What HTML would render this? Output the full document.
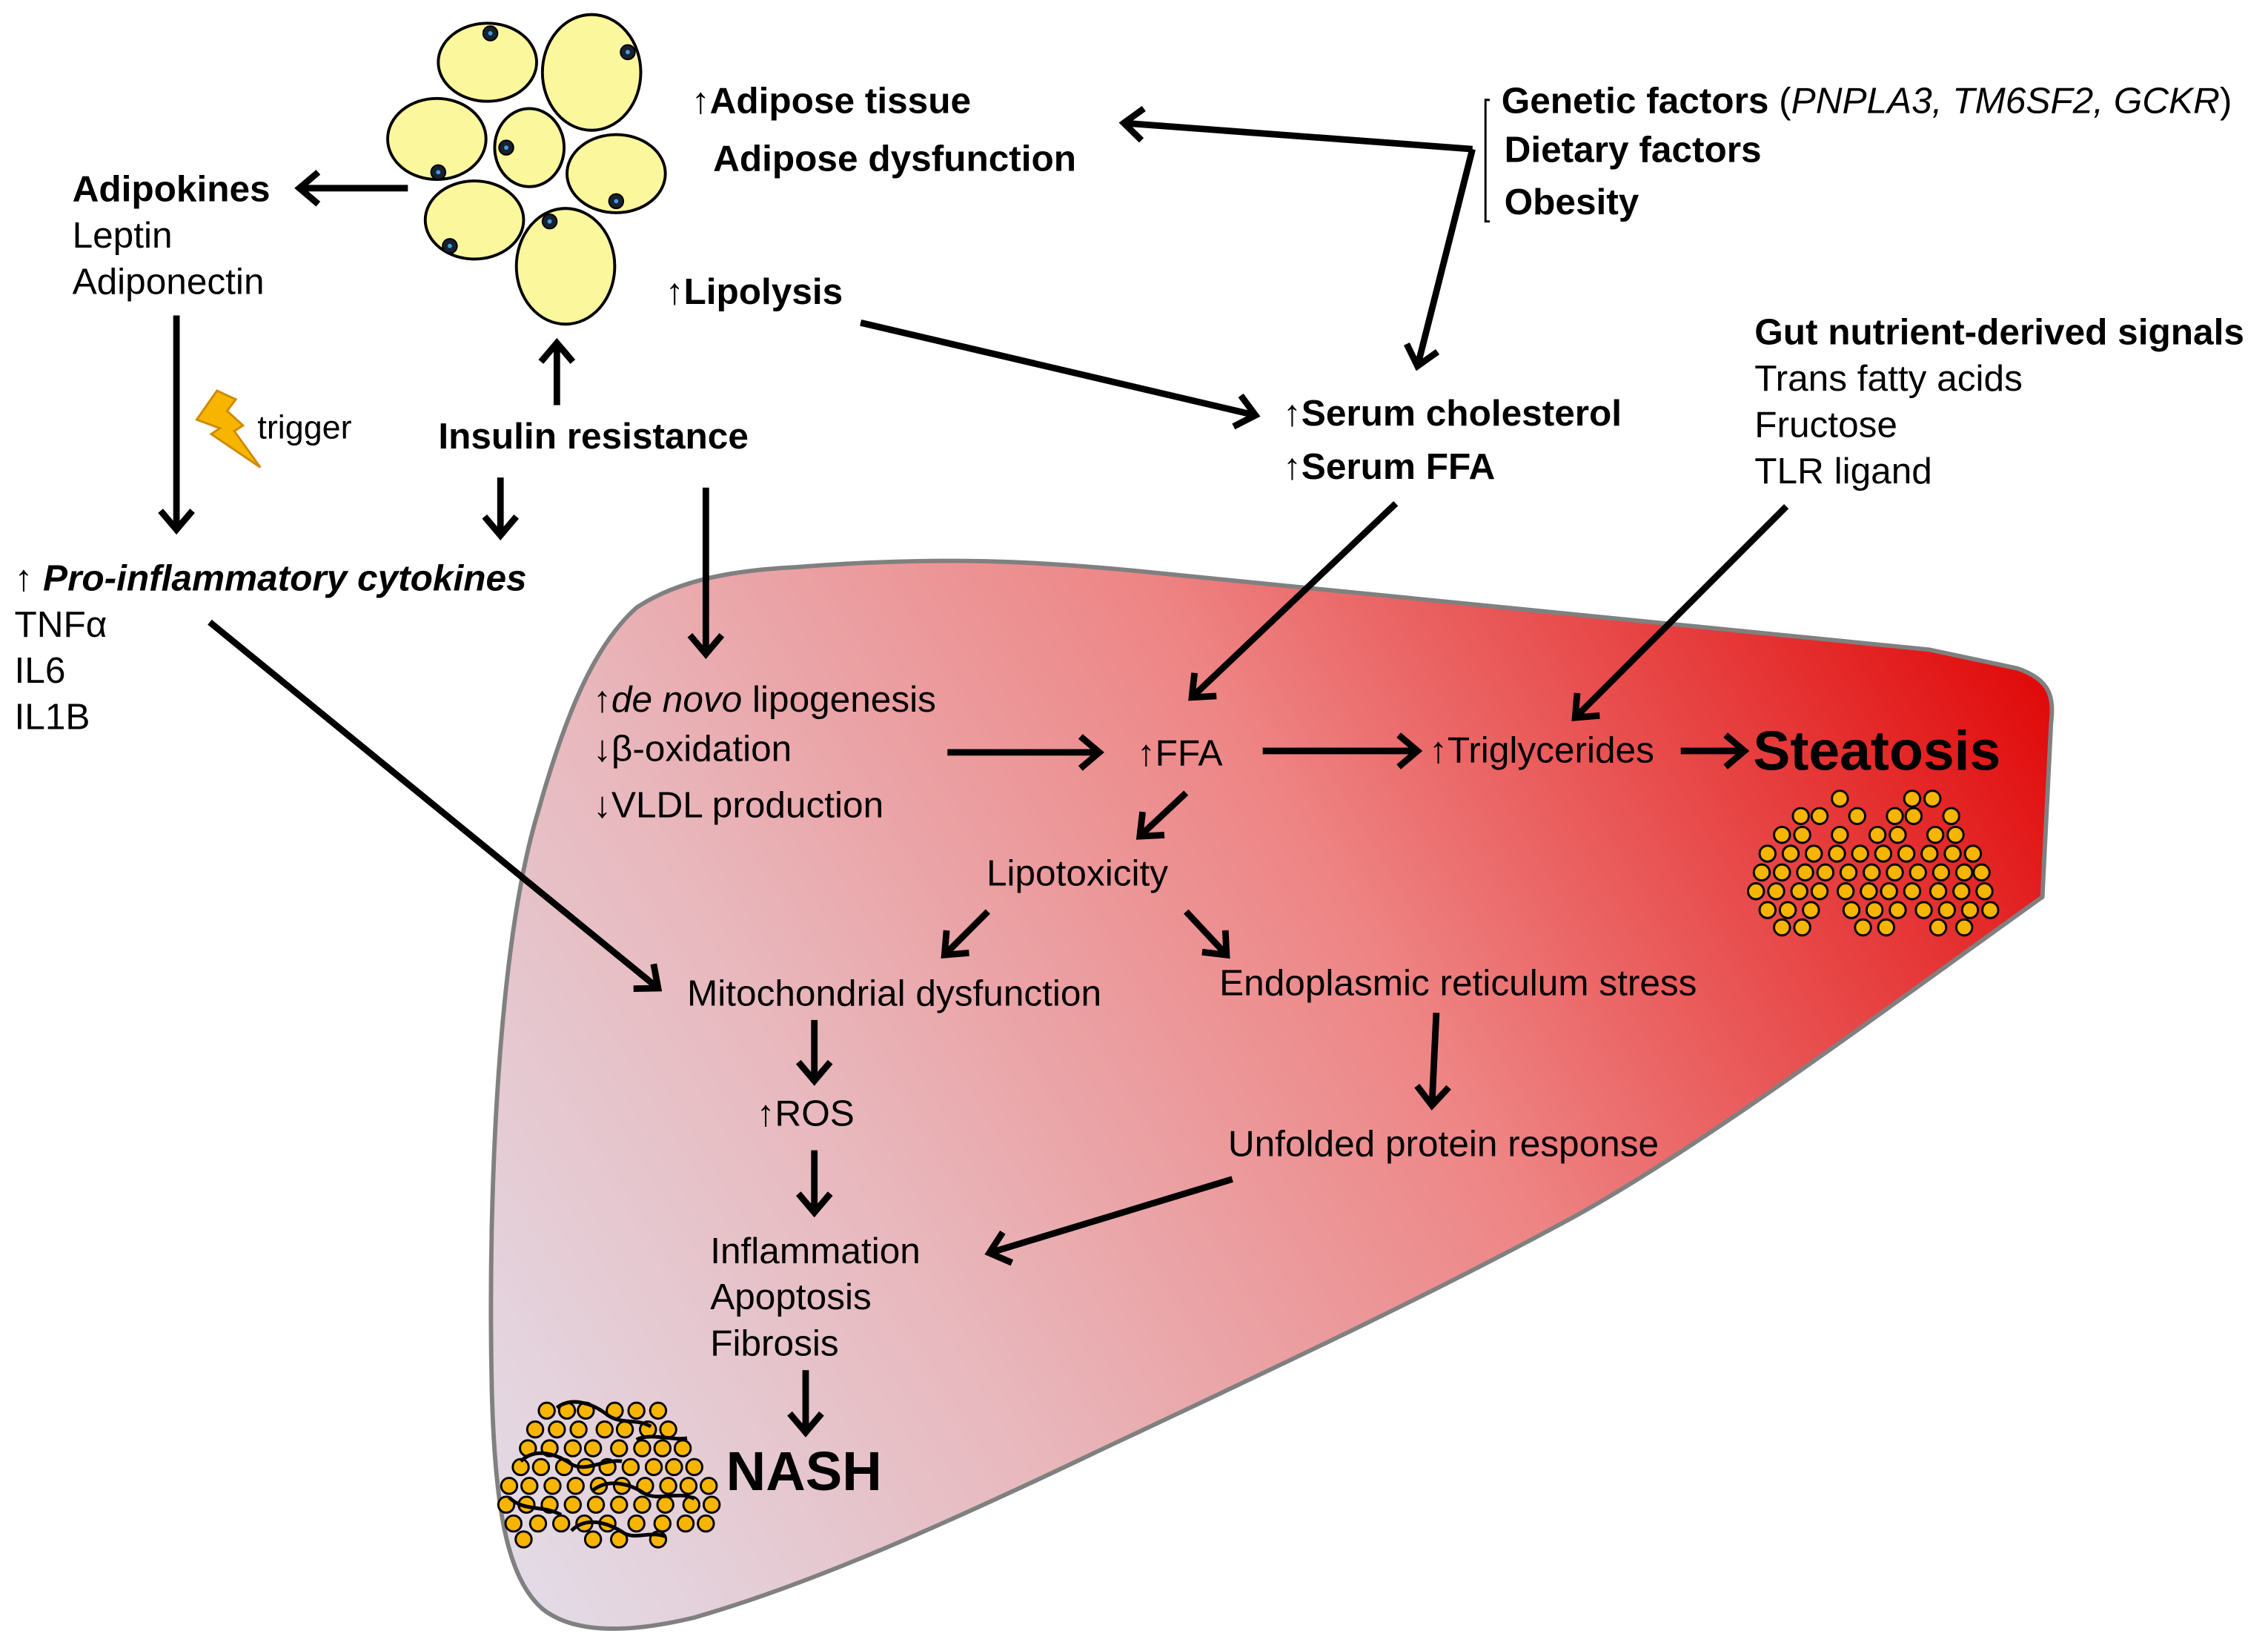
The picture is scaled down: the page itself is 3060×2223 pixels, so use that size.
<!DOCTYPE html>
<html><head><meta charset="utf-8"><style>
html,body{margin:0;padding:0;background:#fff}
svg{display:block}
text{font-family:"Liberation Sans",Arial,sans-serif;font-size:25.4px;fill:#000}
.b{font-weight:bold}
</style></head><body>
<svg width="3060" height="2223" viewBox="0 0 1568 1139" xmlns="http://www.w3.org/2000/svg">
<defs>
<linearGradient id="g" x1="340" y1="1120" x2="1420" y2="470" gradientUnits="userSpaceOnUse">
<stop offset="0" stop-color="#e2deea"/>
<stop offset="0.3" stop-color="#e8b8bd"/>
<stop offset="0.6" stop-color="#ee8585"/>
<stop offset="0.85" stop-color="#e63a3a"/>
<stop offset="1" stop-color="#e00808"/>
</linearGradient>
<marker id="a" viewBox="-20 -20 40 40" refX="0" refY="0" markerWidth="40" markerHeight="40" orient="auto" markerUnits="userSpaceOnUse" overflow="visible">
<path d="M-13,-11 L0,0 L-13,11" fill="none" stroke="#000" stroke-width="4.5" stroke-linejoin="miter"/>
</marker>
</defs>
<path d="M550,392 C650,384 720,388 790,395 L1334,449 L1395,462 C1418,470 1420,482 1418,500 L1412,620 C1300,700 1180,790 1090,840 C980,900 850,960 757,1004 C650,1055 560,1095 480,1118 C430,1130 395,1128 375,1112 C350,1090 342,1040 340,960 C337,820 345,650 372,561 C392,490 412,445 440,420 C470,400 510,394 550,392 Z" fill="url(#g)" stroke="#808080" stroke-width="3"/>

<g fill="#fbf79c" stroke="#000" stroke-width="2">
<ellipse cx="337" cy="43" rx="34" ry="27"/>
<ellipse cx="409" cy="50" rx="34" ry="40"/>
<ellipse cx="302" cy="96" rx="34" ry="28"/>
<ellipse cx="366" cy="102" rx="24" ry="27"/>
<ellipse cx="426" cy="120" rx="34" ry="27"/>
<ellipse cx="328" cy="152" rx="34" ry="27"/>
<ellipse cx="391" cy="184" rx="34" ry="40"/>
</g>
<g fill="#1a2030" stroke="#000" stroke-width="1">
<circle cx="339" cy="23" r="5"/><circle cx="434" cy="36" r="5"/><circle cx="350" cy="102" r="5"/><circle cx="303" cy="119" r="5"/><circle cx="426" cy="139" r="5"/><circle cx="311" cy="170" r="5"/><circle cx="380" cy="153" r="5"/>
</g>
<g fill="#3aa0e0">
<circle cx="339" cy="23" r="1.5"/><circle cx="434" cy="36" r="1.5"/><circle cx="350" cy="102" r="1.5"/><circle cx="303" cy="119" r="1.5"/><circle cx="426" cy="139" r="1.5"/><circle cx="311" cy="170" r="1.5"/><circle cx="380" cy="153" r="1.5"/>
</g>

<polygon points="150,270 136,290 152,296 146,300 180,323 162,298 168,294 157,284 163,276" fill="#f7b500" stroke="#d08a00" stroke-width="1.5"/>

<g stroke="#000" stroke-width="4.5" fill="none" marker-end="url(#a)">
<line x1="282" y1="130" x2="207" y2="130"/>
<line x1="385" y1="280" x2="385" y2="237"/>
<polyline points="1018,103 777,85"/>
<polyline points="1018,103 980,253"/>
<line x1="595" y1="223" x2="868" y2="287"/>
<line x1="122" y1="218" x2="122" y2="366"/>
<line x1="346" y1="330" x2="346" y2="370"/>
<line x1="488" y1="337" x2="488" y2="452"/>
<line x1="145" y1="430" x2="455" y2="683"/>
<line x1="965" y1="348" x2="824" y2="482"/>
<line x1="1235" y1="350" x2="1089" y2="496"/>
<line x1="655" y1="520" x2="760" y2="520"/>
<line x1="873" y1="519" x2="980" y2="519"/>
<line x1="1162" y1="519" x2="1206" y2="519"/>
<line x1="820" y1="548" x2="788" y2="578"/>
<line x1="683" y1="630" x2="653" y2="660"/>
<line x1="820" y1="630" x2="848" y2="660"/>
<line x1="563" y1="705" x2="563" y2="747"/>
<line x1="993" y1="700" x2="990" y2="764"/>
<line x1="563" y1="795" x2="563" y2="838"/>
<line x1="852" y1="815" x2="684" y2="866"/>
<line x1="557" y1="947" x2="557" y2="990"/>
</g>
<path d="M1030,69 L1027,69 L1027,153 L1030,153" fill="none" stroke="#000" stroke-width="1.5"/>

<text class="b" x="478" y="78">↑Adipose tissue</text>
<text class="b" x="493" y="118">Adipose dysfunction</text>
<text class="b" x="50" y="139">Adipokines</text>
<text x="50" y="171">Leptin</text>
<text x="50" y="203">Adiponectin</text>
<text class="b" x="460" y="210">↑Lipolysis</text>
<text x="178" y="303" style="font-size:23px">trigger</text>
<text class="b" x="303" y="310">Insulin resistance</text>
<text class="b" x="10" y="408">↑ <tspan font-style="italic">Pro-inflammatory cytokines</tspan></text>
<text x="10" y="440">TNFα</text>
<text x="10" y="472">IL6</text>
<text x="10" y="504">IL1B</text>
<text x="1038" y="78"><tspan font-weight="bold">Genetic factors</tspan> (<tspan font-style="italic">PNPLA3, TM6SF2, GCKR</tspan>)</text>
<text class="b" x="1040" y="112">Dietary factors</text>
<text class="b" x="1040" y="148">Obesity</text>
<text class="b" x="887" y="294">↑Serum cholesterol</text>
<text class="b" x="887" y="331">↑Serum FFA</text>
<text class="b" x="1213" y="238">Gut nutrient-derived signals</text>
<text x="1213" y="270">Trans fatty acids</text>
<text x="1213" y="302">Fructose</text>
<text x="1213" y="334">TLR ligand</text>
<text x="410" y="492">↑<tspan font-style="italic">de novo</tspan> lipogenesis</text>
<text x="410" y="526">↓β-oxidation</text>
<text x="410" y="565">↓VLDL production</text>
<text x="786" y="529">↑FFA</text>
<text x="988" y="527">↑Triglycerides</text>
<text class="b" x="1212" y="532" style="font-size:38.5px">Steatosis</text>
<text x="682" y="612">Lipotoxicity</text>
<text x="475" y="695">Mitochondrial dysfunction</text>
<text x="843" y="688">Endoplasmic reticulum stress</text>
<text x="523" y="778">↑ROS</text>
<text x="849" y="799">Unfolded protein response</text>
<text x="491" y="873">Inflammation</text>
<text x="491" y="905">Apoptosis</text>
<text x="491" y="937">Fibrosis</text>
<text class="b" x="502" y="1030" style="font-size:38px">NASH</text>

<g fill="#f7b500" stroke="#000" stroke-width="1.5">
<circle cx="1272" cy="552" r="5.5"/><circle cx="1322" cy="552" r="5.5"/><circle cx="1336" cy="552" r="5.5"/>
<circle cx="1245" cy="564" r="5.5"/><circle cx="1258" cy="564" r="5.5"/><circle cx="1284" cy="564" r="5.5"/><circle cx="1310" cy="564" r="5.5"/><circle cx="1323" cy="564" r="5.5"/><circle cx="1349" cy="564" r="5.5"/>
<circle cx="1232" cy="577" r="5.5"/><circle cx="1246" cy="577" r="5.5"/><circle cx="1272" cy="577" r="5.5"/><circle cx="1298" cy="577" r="5.5"/><circle cx="1312" cy="577" r="5.5"/><circle cx="1338" cy="577" r="5.5"/><circle cx="1352" cy="577" r="5.5"/>
<circle cx="1222" cy="590" r="5.5"/><circle cx="1238" cy="590" r="5.5"/><circle cx="1254" cy="590" r="5.5"/><circle cx="1270" cy="590" r="5.5"/><circle cx="1286" cy="590" r="5.5"/><circle cx="1302" cy="590" r="5.5"/><circle cx="1318" cy="590" r="5.5"/><circle cx="1334" cy="590" r="5.5"/><circle cx="1350" cy="590" r="5.5"/><circle cx="1364" cy="590" r="5.5"/>
<circle cx="1218" cy="603" r="5.5"/><circle cx="1232" cy="603" r="5.5"/><circle cx="1248" cy="603" r="5.5"/><circle cx="1262" cy="603" r="5.5"/><circle cx="1278" cy="603" r="5.5"/><circle cx="1294" cy="603" r="5.5"/><circle cx="1310" cy="603" r="5.5"/><circle cx="1326" cy="603" r="5.5"/><circle cx="1342" cy="603" r="5.5"/><circle cx="1358" cy="603" r="5.5"/><circle cx="1370" cy="603" r="5.5"/>
<circle cx="1214" cy="616" r="5.5"/><circle cx="1228" cy="616" r="5.5"/><circle cx="1244" cy="616" r="5.5"/><circle cx="1258" cy="616" r="5.5"/><circle cx="1276" cy="616" r="5.5"/><circle cx="1292" cy="616" r="5.5"/><circle cx="1306" cy="616" r="5.5"/><circle cx="1322" cy="616" r="5.5"/><circle cx="1340" cy="616" r="5.5"/><circle cx="1356" cy="616" r="5.5"/><circle cx="1372" cy="616" r="5.5"/>
<circle cx="1222" cy="629" r="5.5"/><circle cx="1236" cy="629" r="5.5"/><circle cx="1252" cy="629" r="5.5"/><circle cx="1280" cy="629" r="5.5"/><circle cx="1296" cy="629" r="5.5"/><circle cx="1312" cy="629" r="5.5"/><circle cx="1330" cy="629" r="5.5"/><circle cx="1346" cy="629" r="5.5"/><circle cx="1362" cy="629" r="5.5"/><circle cx="1376" cy="629" r="5.5"/>
<circle cx="1232" cy="641" r="5.5"/><circle cx="1246" cy="641" r="5.5"/><circle cx="1288" cy="641" r="5.5"/><circle cx="1304" cy="641" r="5.5"/><circle cx="1340" cy="641" r="5.5"/><circle cx="1358" cy="641" r="5.5"/>
</g>

<g fill="#f7b500" stroke="#000" stroke-width="1.5">
<circle cx="378" cy="975" r="5.5"/><circle cx="392" cy="975" r="5.5"/><circle cx="405" cy="975" r="5.5"/><circle cx="425" cy="975" r="5.5"/><circle cx="440" cy="975" r="5.5"/><circle cx="455" cy="975" r="5.5"/>
<circle cx="370" cy="988" r="5.5"/><circle cx="385" cy="988" r="5.5"/><circle cx="400" cy="988" r="5.5"/><circle cx="418" cy="988" r="5.5"/><circle cx="432" cy="988" r="5.5"/><circle cx="448" cy="988" r="5.5"/><circle cx="462" cy="988" r="5.5"/>
<circle cx="365" cy="1001" r="5.5"/><circle cx="380" cy="1001" r="5.5"/><circle cx="396" cy="1001" r="5.5"/><circle cx="410" cy="1001" r="5.5"/><circle cx="428" cy="1001" r="5.5"/><circle cx="444" cy="1001" r="5.5"/><circle cx="458" cy="1001" r="5.5"/><circle cx="472" cy="1001" r="5.5"/>
<circle cx="360" cy="1014" r="5.5"/><circle cx="374" cy="1014" r="5.5"/><circle cx="390" cy="1014" r="5.5"/><circle cx="405" cy="1014" r="5.5"/><circle cx="420" cy="1014" r="5.5"/><circle cx="436" cy="1014" r="5.5"/><circle cx="452" cy="1014" r="5.5"/><circle cx="466" cy="1014" r="5.5"/><circle cx="480" cy="1014" r="5.5"/>
<circle cx="352" cy="1027" r="5.5"/><circle cx="366" cy="1027" r="5.5"/><circle cx="382" cy="1027" r="5.5"/><circle cx="398" cy="1027" r="5.5"/><circle cx="414" cy="1027" r="5.5"/><circle cx="430" cy="1027" r="5.5"/><circle cx="446" cy="1027" r="5.5"/><circle cx="462" cy="1027" r="5.5"/><circle cx="476" cy="1027" r="5.5"/><circle cx="490" cy="1027" r="5.5"/>
<circle cx="350" cy="1040" r="5.5"/><circle cx="364" cy="1040" r="5.5"/><circle cx="380" cy="1040" r="5.5"/><circle cx="396" cy="1040" r="5.5"/><circle cx="412" cy="1040" r="5.5"/><circle cx="428" cy="1040" r="5.5"/><circle cx="444" cy="1040" r="5.5"/><circle cx="460" cy="1040" r="5.5"/><circle cx="478" cy="1040" r="5.5"/><circle cx="492" cy="1040" r="5.5"/>
<circle cx="355" cy="1053" r="5.5"/><circle cx="372" cy="1053" r="5.5"/><circle cx="388" cy="1053" r="5.5"/><circle cx="404" cy="1053" r="5.5"/><circle cx="420" cy="1053" r="5.5"/><circle cx="440" cy="1053" r="5.5"/><circle cx="458" cy="1053" r="5.5"/><circle cx="474" cy="1053" r="5.5"/><circle cx="488" cy="1053" r="5.5"/>
<circle cx="362" cy="1064" r="5.5"/><circle cx="410" cy="1064" r="5.5"/><circle cx="428" cy="1064" r="5.5"/><circle cx="455" cy="1064" r="5.5"/>
</g>
<g fill="none" stroke="#000" stroke-width="2.5">
<path d="M385,973 C395,965 410,970 420,978 C430,985 440,980 450,986"/>
<path d="M360,1010 C370,1000 385,1005 395,1012 C405,1018 418,1008 430,1010"/>
<path d="M410,1030 C420,1022 435,1025 445,1032 C455,1038 470,1030 480,1036"/>
<path d="M352,1035 C362,1045 375,1040 388,1047"/>
<path d="M395,1058 C405,1048 420,1052 432,1060 C440,1064 450,1058 460,1062"/>
<path d="M440,995 C450,990 465,996 475,994"/>
</g>
</svg>
</body></html>
